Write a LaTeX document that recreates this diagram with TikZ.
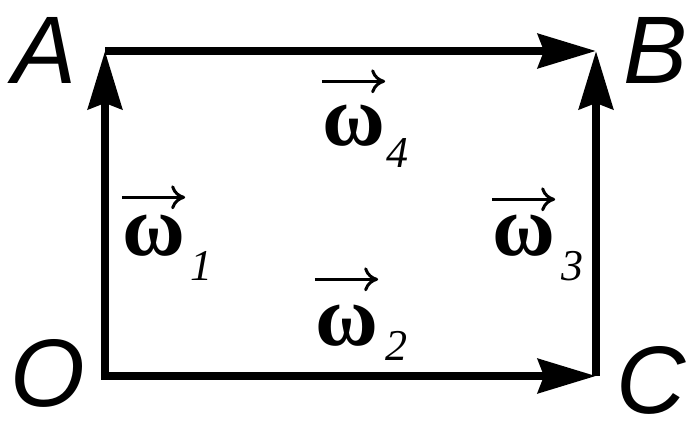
\documentclass[tikz,border=0pt]{standalone}
\usepackage{fontspec}
\setmainfont{Liberation Serif}
\newfontfamily\PointFont{Liberation Sans}
\usepackage{tikz}
\usetikzlibrary{arrows.meta}
\tikzstyle{Edge}=[draw=black,line width=8pt,
-{Stealth[length=58pt,width=34pt,inset=6pt]}]
\tikzstyle{Point}=[inner sep=0pt,font=\PointFont\itshape\fontsize{96}{96}\selectfont]
\tikzstyle{Omega}=[inner sep=0pt,anchor=base,font=\bfseries\fontsize{86}{86}\selectfont]
\tikzstyle{Index}=[inner sep=0pt,anchor=base west,font=\itshape\fontsize{44}{44}\selectfont]
\tikzstyle{VecArrow}=[draw=black,line width=3pt,-{To[length=14pt,width=24pt]}]

\begin{document}
\begin{tikzpicture}[x=1pt,y=-1pt]
        \useasboundingbox(0,0)rectangle(698,431);
        \coordinate(o)at(105,376);
        \coordinate(a)at(105,51);
        \coordinate(b)at(596,51);
        \coordinate(c)at(596,376);
        \node[Point](A)at(45,50){A};
        \node[Point](B)at(656,50){B};
        \node[Point](C)at(651,380){C};
        \node[Point](O)at(48,373){O};
        \draw[Edge,line cap=rect](o)--(a);
        \draw[Edge,line cap=rect](o)--(c);
        \draw[Edge](a)--(b);
        \draw[Edge](c)--(b);
        \node[Omega](w1)at(153.5,255){ω};
        \node[Index](i1)at(190,280){1};
        \node[Omega](w2)at(346.5,345){ω};
        \node[Index](i2)at(385,360){2};
        \node[Omega](w3)at(523.5,255){ω};
        \node[Index](i3)at(561,280){3};
        \node[Omega](w4)at(353.5,145){ω};
        \node[Index](i4)at(386,167){4};
        \draw[VecArrow]([yshift=17pt]w1.north west)--([yshift=17pt]w1.north east);
        \draw[VecArrow]([yshift=25pt]w2.north west)--([yshift=25pt]w2.north east);
        \draw[VecArrow]([yshift=15pt]w3.north west)--([yshift=15pt]w3.north east);
        \draw[VecArrow]([yshift=23pt]w4.north west)--([yshift=23pt]w4.north east);
    \end{tikzpicture}
\end{document}
